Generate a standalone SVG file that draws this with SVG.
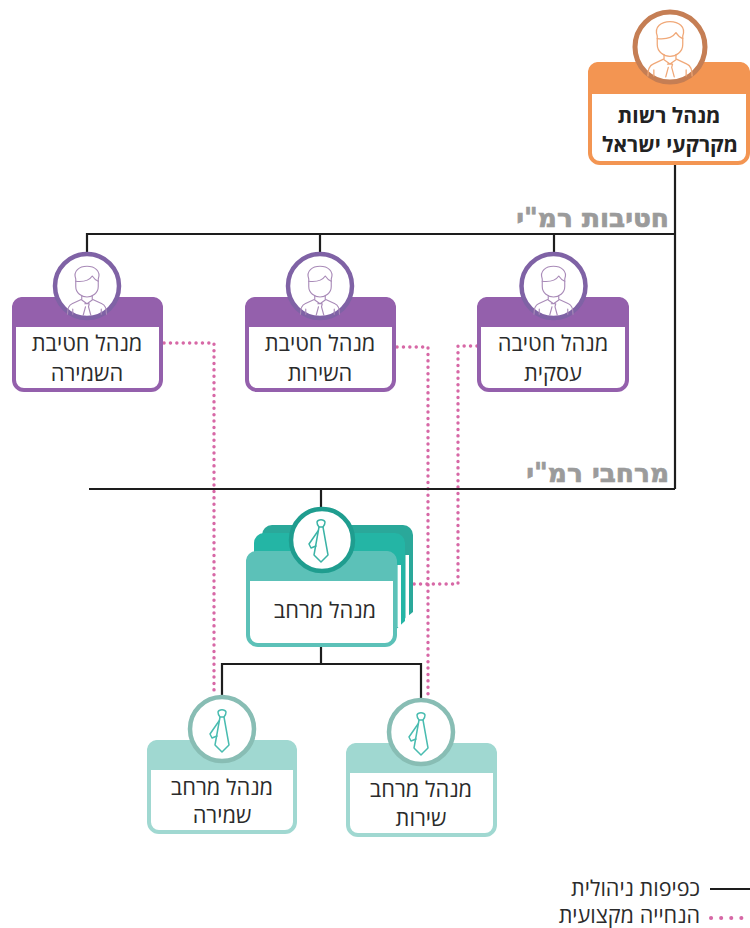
<svg xmlns="http://www.w3.org/2000/svg" width="750" height="928" viewBox="0 0 750 928">
<defs>
<style>
text{font-family:"Open Sans","Liberation Sans","DejaVu Sans",sans-serif;fill:#2b2b2b;text-anchor:middle;font-size:21.800px}
.b{font-weight:700;font-size:21px;fill:#222}
.sec{font-weight:800;font-size:26.400px;fill:#9b9b9b;stroke:#9b9b9b;stroke-width:.7;text-anchor:end;font-family:"DejaVu Sans","Liberation Sans",sans-serif}
.leg{font-size:21.600px;text-anchor:end}
.ln{fill:none;stroke:#1d1d1d;stroke-width:2.200}
.dot{fill:none;stroke:#d768a6;stroke-width:3.400;stroke-linecap:round;stroke-dasharray:.1 6.300}
.dot2{fill:none;stroke:#d768a6;stroke-width:4;stroke-linecap:round;stroke-dasharray:.1 10}
.ic{fill:none;stroke-width:1.500;stroke-linejoin:round;stroke-linecap:round}
</style>
<g id="man"><path d="M-15-20c-4-11 5-17 15-17s19 6 15 17v10C15-1 7 4 0 4s-15-5-15-14z"/><path d="M-15-17c9 1 18-1 22-7 2 3 5 6 8 7"/><path d="M-7 2v5L-20 13c-5 2-6 8-6 14M7 2v5l13 6c5 2 6 8 6 14"/><path d="M-7 8 0 13l7-5M-3 13h6L2 17l3 11M-2 17l-3 11M-19 20v7M19 20v7"/></g>
<g id="tie"><path d="M-4-19c1-3 7-3 8 0 0 2-1 4-2 5l5 28-7 7-7-7 5-28c-1-1-2-3-2-5z"/><path d="M-3-10-12 3l2 4 5-2"/><path d="M-2-14h4"/></g>
</defs>
<rect width="750" height="928" fill="#fff"/>
<g id="connectors">
<path class="dot" d="M164 343H214V695"/>
<path class="dot" d="M397 347H428V697"/>
<path class="dot" d="M477 346H458V584H413"/>
<path class="ln" d="M675 165V489M87 252V234H675M320 252V234M554 252V234M89 489H675M321 489V510M321 646V664M222 697V664H421V698"/>
</g>
<text class="sec" x="669" y="227">חטיבות רמ"י</text>
<text class="sec" x="669" y="482">מרחבי רמ"י</text>
<g id="n-director">
<rect x="590" y="64" width="158" height="99" rx="10" fill="#fff" stroke="#f39552" stroke-width="4"/>
<path d="M588 94V72a10 10 0 0 1 10-10H740a10 10 0 0 1 10 10V94z" fill="#f39552"/>
<circle cx="670" cy="47" r="35" fill="#fff" stroke="#c57e54" stroke-width="5"/>
<use href="#man" transform="translate(670 53) scale(.85)" class="ic" stroke="#f0a878"/>
<text class="b" x="669" y="123">מנהל רשות</text><text class="b" x="670" y="152">מקרקעי ישראל</text>
</g>
<g id="n-security">
<rect x="14" y="299" width="147" height="91" rx="10" fill="#fff" stroke="#9460ac" stroke-width="4"/>
<path d="M12 327V307a10 10 0 0 1 10-10H153a10 10 0 0 1 10 10V327z" fill="#9460ac"/>
<circle cx="87" cy="286" r="32" fill="#fff" stroke="#7f62a5" stroke-width="4.500"/>
<use href="#man" transform="translate(87 294) scale(.75)" class="ic" stroke="#a98bb8"/>
<text x="87" y="351">מנהל חטיבת</text><text x="87" y="381">השמירה</text>
</g>
<g id="n-service">
<rect x="247" y="299" width="147" height="91" rx="10" fill="#fff" stroke="#9460ac" stroke-width="4"/>
<path d="M245 327V307a10 10 0 0 1 10-10H386a10 10 0 0 1 10 10V327z" fill="#9460ac"/>
<circle cx="320" cy="286" r="32" fill="#fff" stroke="#7f62a5" stroke-width="4.500"/>
<use href="#man" transform="translate(320 294) scale(.75)" class="ic" stroke="#a98bb8"/>
<text x="320" y="351">מנהל חטיבת</text><text x="320" y="381">השירות</text>
</g>
<g id="n-business">
<rect x="479" y="299" width="148" height="91" rx="10" fill="#fff" stroke="#9460ac" stroke-width="4"/>
<path d="M477 327V307a10 10 0 0 1 10-10H619a10 10 0 0 1 10 10V327z" fill="#9460ac"/>
<circle cx="553.500" cy="286" r="32" fill="#fff" stroke="#7f62a5" stroke-width="4.500"/>
<use href="#man" transform="translate(553.500 294) scale(.75)" class="ic" stroke="#a98bb8"/>
<text x="553" y="351">מנהל חטיבה</text><text x="553" y="381">עסקית</text>
</g>
<g id="n-region">
<path d="M262 560V535a10 10 0 0 1 10-10H403a10 10 0 0 1 10 10V612L398 624H300z" fill="#2aa89a"/>
<rect x="405.500" y="555" width="3.500" height="63" fill="#fff"/>
<path d="M254 570V543a10 10 0 0 1 10-10H395a10 10 0 0 1 10 10V621L392 633H300z" fill="#24b5a5"/>
<rect x="397.500" y="565" width="3.500" height="62" fill="#fff"/>
<rect x="248" y="553" width="147" height="92" rx="10" fill="#fff" stroke="#5cc1b8" stroke-width="4"/>
<path d="M246 581V561a10 10 0 0 1 10-10H387a10 10 0 0 1 10 10V581z" fill="#5cc1b8"/>
<circle cx="322" cy="540" r="31" fill="#fff" stroke="#1f9d8f" stroke-width="4.500"/>
<use href="#tie" transform="translate(321 541)" class="ic" stroke="#3bb3a6"/>
<text x="325" y="618">מנהל מרחב</text>
</g>
<g id="n-region-security">
<rect x="149" y="742" width="146" height="90" rx="10" fill="#fff" stroke="#a0d8d1" stroke-width="4"/>
<path d="M147 770V750a10 10 0 0 1 10-10H287a10 10 0 0 1 10 10V770z" fill="#a0d8d1"/>
<circle cx="222" cy="729" r="32" fill="#fff" stroke="#88bdb4" stroke-width="4.500"/>
<use href="#tie" transform="translate(222 731)" class="ic" stroke="#49bcb0"/>
<text x="222" y="795">מנהל מרחב</text><text x="222" y="823">שמירה</text>
</g>
<g id="n-region-service">
<rect x="348" y="745" width="147" height="90" rx="10" fill="#fff" stroke="#a0d8d1" stroke-width="4"/>
<path d="M346 773V753a10 10 0 0 1 10-10H487a10 10 0 0 1 10 10V773z" fill="#a0d8d1"/>
<circle cx="421" cy="732" r="32" fill="#fff" stroke="#88bdb4" stroke-width="4.500"/>
<use href="#tie" transform="translate(421 734)" class="ic" stroke="#49bcb0"/>
<text x="421" y="797">מנהל מרחב</text><text x="421" y="826">שירות</text>
</g>
<g id="legend">
<path class="ln" d="M710 889H750"/>
<path class="dot2" d="M711 918H750"/>
<text class="leg" x="700" y="896">כפיפות ניהולית</text>
<text class="leg" x="700" y="923">הנחייה מקצועית</text>
</g>
</svg>
